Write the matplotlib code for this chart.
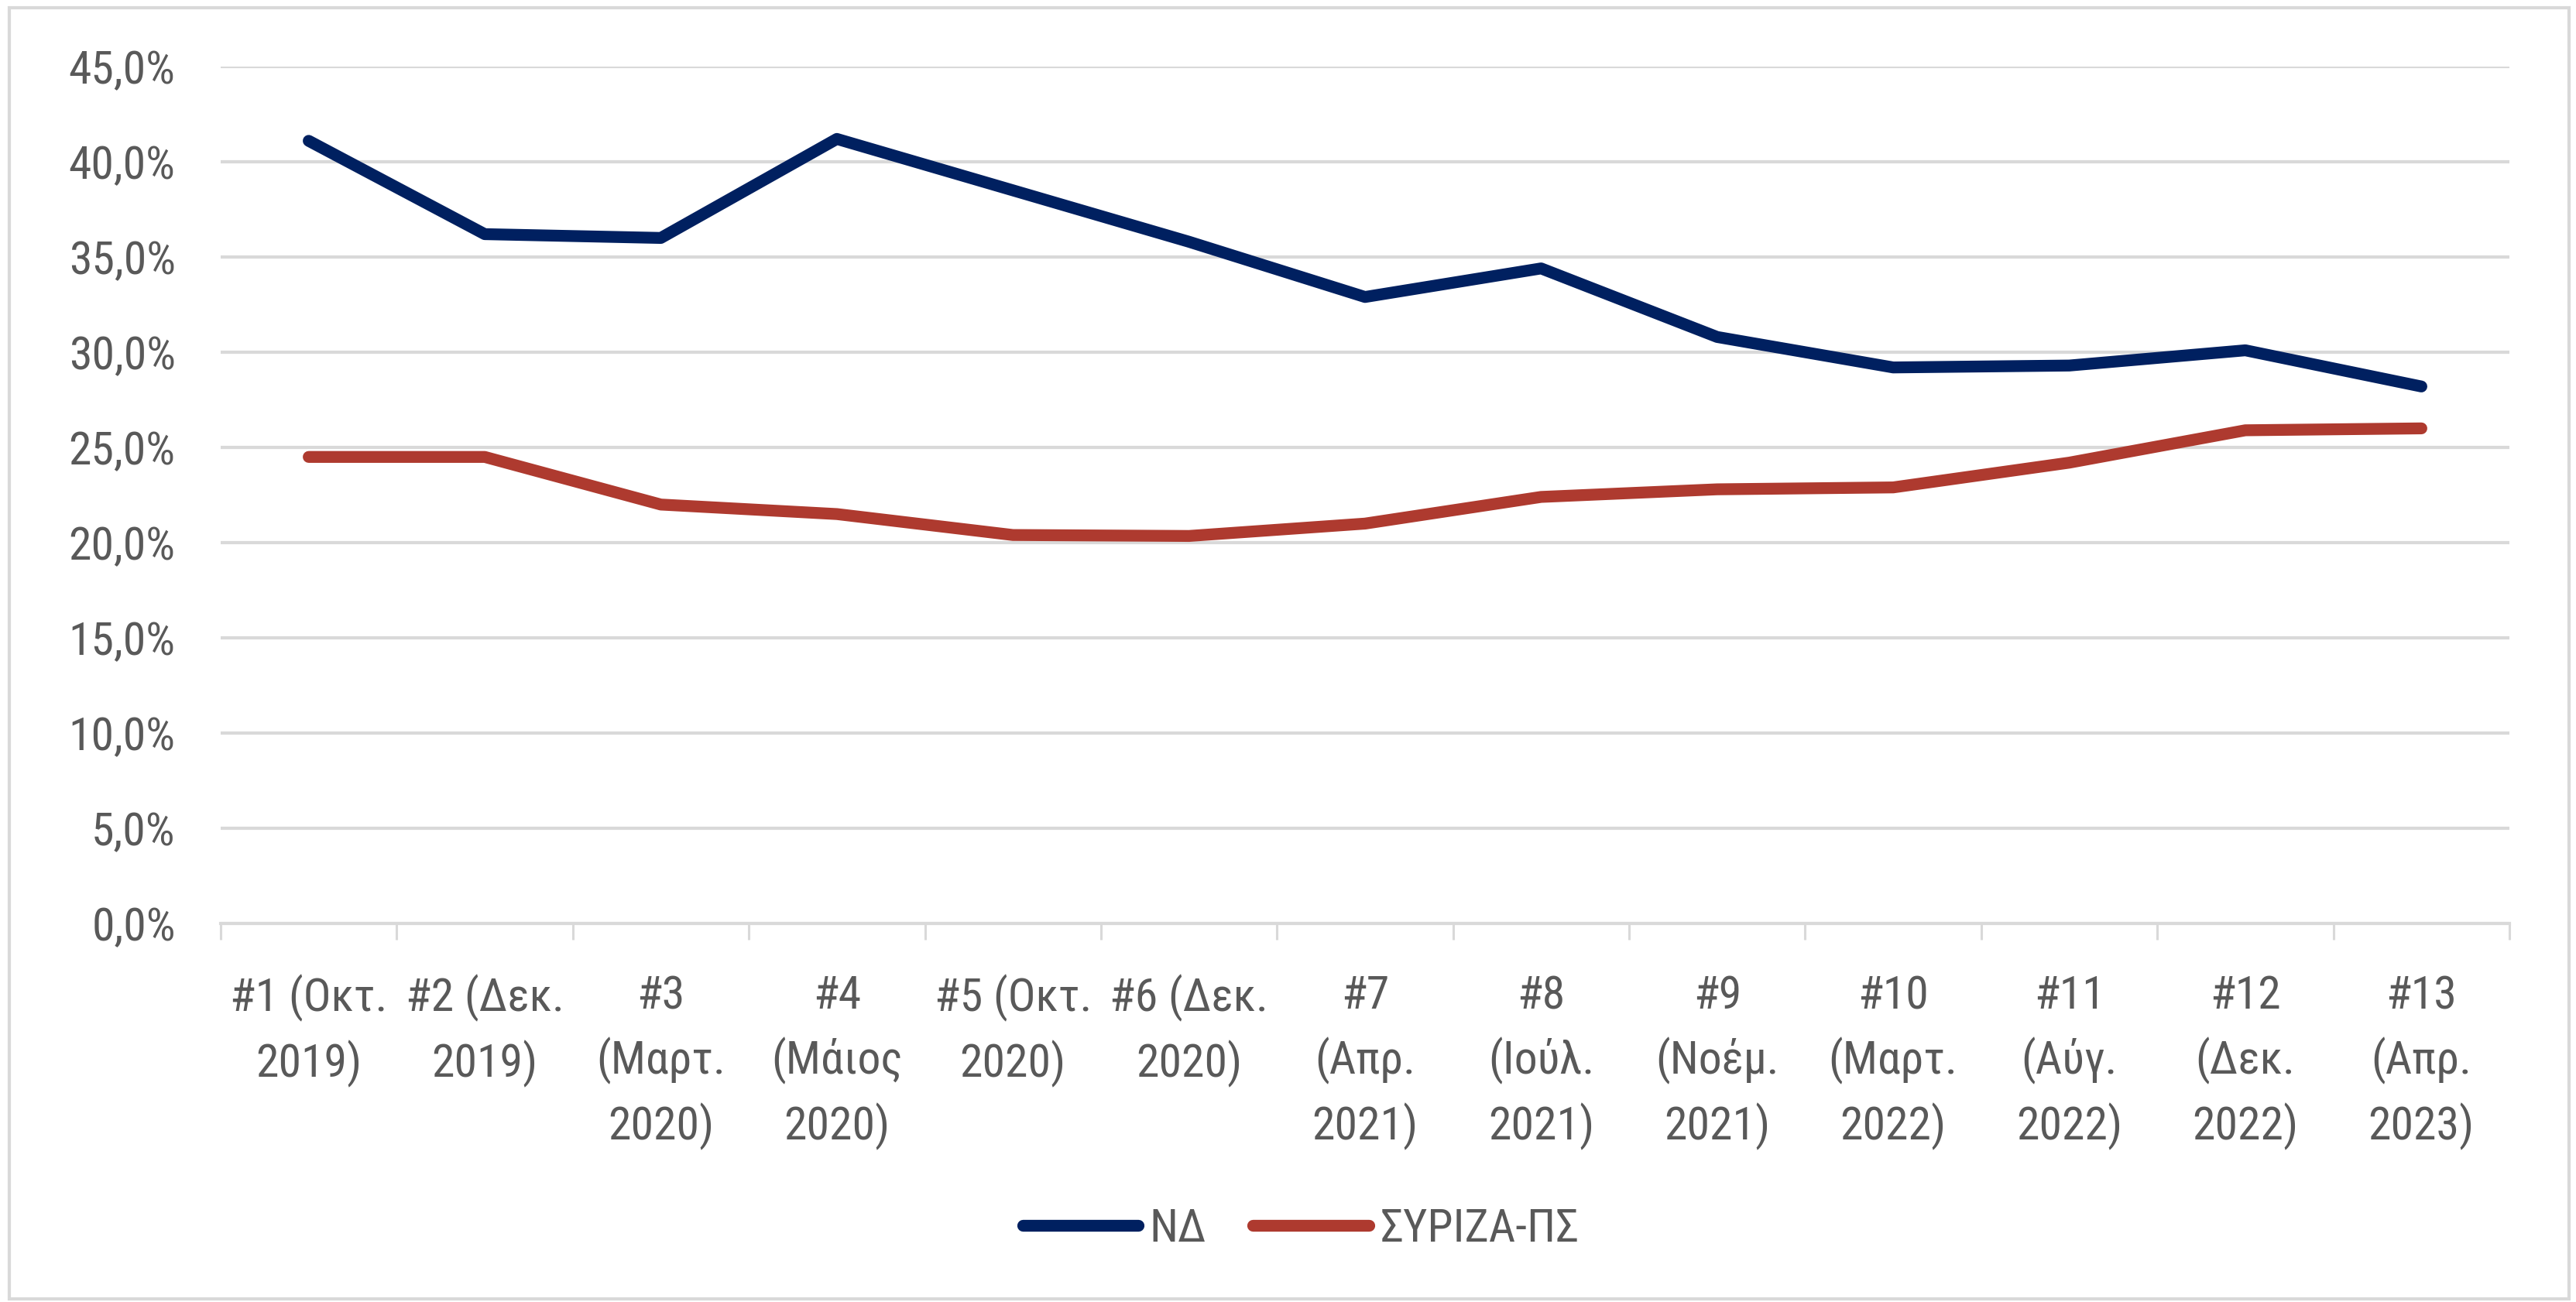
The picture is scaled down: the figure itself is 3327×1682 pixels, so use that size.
import matplotlib
matplotlib.use("Agg")
import matplotlib.pyplot as plt
from matplotlib.patches import Rectangle
from matplotlib.ticker import FuncFormatter, FixedLocator

# ── Data ───────────────────────────────────────────────
labels = [
    "#1 (Οκτ.\n2019)", "#2 (Δεκ.\n2019)", "#3\n(Μαρτ.\n2020)", "#4\n(Μάιος\n2020)",
    "#5 (Οκτ.\n2020)", "#6 (Δεκ.\n2020)", "#7\n(Απρ.\n2021)", "#8\n(Ιούλ.\n2021)",
    "#9\n(Νοέμ.\n2021)", "#10\n(Μαρτ.\n2022)", "#11\n(Αύγ.\n2022)", "#12\n(Δεκ.\n2022)",
    "#13\n(Απρ.\n2023)",
]
nd = [41.1, 36.2, 36.0, 41.2, 38.5, 35.8, 32.9, 34.4, 30.8, 29.2, 29.3, 30.1, 28.2]
syriza = [24.5, 24.5, 22.0, 21.5, 20.4, 20.35, 21.0, 22.4, 22.8, 22.9, 24.2, 25.9, 26.0]
series_names = ["ΝΔ", "ΣΥΡΙΖΑ-ΠΣ"]

# ── Style ──────────────────────────────────────────────
plt.rcParams["font.family"] = ["Roboto Condensed", "DejaVu Sans"]
plt.rcParams["font.weight"] = "normal"
TEXT = "#595959"
GRID = "#D9D9D9"
FS = 43

W, H = 3327, 1682
fig = plt.figure(figsize=(W / 100, H / 100), dpi=100)

# chart border
fig.patches.append(Rectangle((12 / W, 4 / H), (3318 - 12) / W, (1672 - 4) / H,
                             transform=fig.transFigure, fill=False,
                             edgecolor=GRID, linewidth=3))

ax = fig.add_axes([285 / W, 1 - 1193 / H, (3241 - 285) / W, (1193 - 86) / H])

x = list(range(len(labels)))
ax.plot(x, nd, color="#002060", lw=11, label=series_names[0],
        solid_capstyle="round", solid_joinstyle="round", zorder=3)
ax.plot(x, syriza, color="#AE3A2F", lw=11, label=series_names[1],
        solid_capstyle="round", solid_joinstyle="round", zorder=3)

ax.set_xlim(-0.5, len(labels) - 0.5)
ax.set_ylim(0, 45)
ax.set_yticks(range(0, 46, 5))
ax.yaxis.set_major_formatter(FuncFormatter(lambda v, p: f"{v:.1f}%".replace(".", ",")))
ax.grid(axis="y", color=GRID, lw=3, zorder=0)
ax.tick_params(axis="y", length=0, pad=42, labelsize=FS, labelcolor=TEXT)

# category labels centred, tick marks at category boundaries
ax.set_xticks(x)
ax.set_xticklabels(labels, linespacing=1.5, va="top")
ax.tick_params(axis="x", which="major", length=0, pad=47, labelsize=FS, labelcolor=TEXT)
ax.xaxis.set_minor_locator(FixedLocator([i - 0.5 for i in range(len(labels) + 1)]))
ax.tick_params(axis="x", which="minor", length=15, width=2.2, color=GRID, direction="out")

for s in ["top", "right", "left"]:
    ax.spines[s].set_visible(False)
ax.spines["bottom"].set_color(GRID)
ax.spines["bottom"].set_linewidth(3)

leg = fig.legend(loc="center", bbox_to_anchor=(0.505, 1 - 1587 / H), ncol=2,
                 frameon=False, fontsize=FS, handlelength=2.5, handletextpad=0.25,
                 columnspacing=1.0, labelcolor=TEXT)

fig.savefig("out.png", dpi=100)
